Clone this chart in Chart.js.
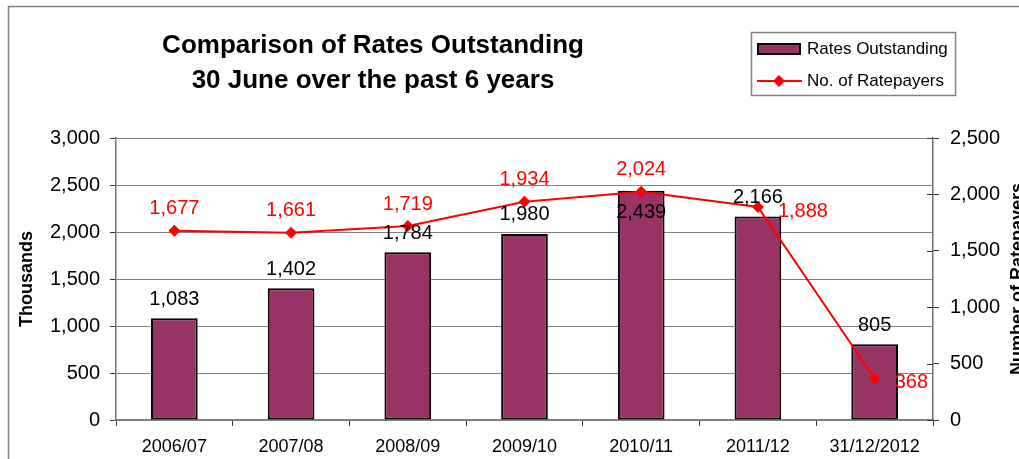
<!DOCTYPE html>
<html lang="en">
<head>
<meta charset="UTF-8">
<title>Comparison of Rates Outstanding</title>
<style>
  html, body { margin: 0; padding: 0; background: white; overflow: hidden; }
</style>
<script src="https://cdn.jsdelivr.net/npm/chart.js"></script>
</head>
<body>
<canvas id="ratesChart" width="1019" height="459"></canvas>
<script>
  // Values at 30 June each year (last column is the half-year figure)
  const periods = ['2006/07', '2007/08', '2008/09', '2009/10', '2010/11', '2011/12', '31/12/2012'];
  const ratesOutstanding = [1083, 1402, 1784, 1980, 2439, 2166, 805]; // thousands
  const ratepayers = [1677, 1661, 1719, 1934, 2024, 1888, 368];

  // Where each value label sits relative to its mark
  const barLabelSide = ['above', 'above', 'above', 'above', 'inside', 'above', 'above'];
  const lineLabelSide = ['above', 'above', 'above', 'above', 'above', 'right', 'right'];

  const FONT = "'Liberation Sans', Arial, sans-serif";
  const BAR_COLOR = '#993366';
  const LINE_COLOR = '#ff0000';
  const fmt = v => Number(v).toLocaleString('en-US');

  // Frame, title, axis titles, legend and value labels
  const decorations = {
    id: 'decorations',
    beforeDraw(chart) {
      const ctx = chart.ctx;
      ctx.save();
      ctx.fillStyle = '#fff';
      ctx.fillRect(0, 0, chart.width, chart.height);
      ctx.strokeStyle = '#808080';
      ctx.lineWidth = 1.5;
      ctx.strokeRect(8.5, 6.5, chart.width + 40, chart.height + 40);
      ctx.restore();
    },
    afterDatasetsDraw(chart) {
      const ctx = chart.ctx;
      ctx.save();
      ctx.font = '20px ' + FONT;
      ctx.textBaseline = 'middle';
      chart.data.datasets.forEach((ds, i) => {
        const meta = chart.getDatasetMeta(i);
        meta.data.forEach((el, j) => {
          const side = ds.labelSide[j];
          let x = el.x, y = el.y;
          ctx.fillStyle = ds.labelColor;
          ctx.textAlign = 'center';
          if (side === 'above') y -= ds.type === 'line' ? 22 : 19;
          else if (side === 'inside') y += 22;
          else if (side === 'right') { x += 20; y += 4; ctx.textAlign = 'left'; }
          ctx.fillText(fmt(ds.data[j]), x, y);
        });
      });
      ctx.restore();
    },
    afterDraw(chart) {
      const ctx = chart.ctx;
      const area = chart.chartArea;
      const midY = (area.top + area.bottom) / 2;
      ctx.save();

      // right axis ticks cross the axis line
      const right = chart.scales.y1;
      ctx.strokeStyle = '#333';
      ctx.lineWidth = 1;
      right.ticks.forEach(t => {
        const y = Math.round(right.getPixelForValue(t.value)) + 0.5;
        ctx.beginPath();
        ctx.moveTo(area.right - 6, y);
        ctx.lineTo(area.right, y);
        ctx.stroke();
      });

      // title
      ctx.fillStyle = '#000';
      ctx.textAlign = 'center';
      ctx.textBaseline = 'alphabetic';
      ctx.font = 'bold 26px ' + FONT;
      ctx.fillText('Comparison of Rates Outstanding', 373, 53);
      ctx.fillText('30 June over the past 6 years', 373, 88);

      // axis titles, both reading upwards
      ctx.font = 'bold 18px ' + FONT;
      ctx.save();
      ctx.translate(32, midY);
      ctx.rotate(-Math.PI / 2);
      ctx.fillText('Thousands', 0, 0);
      ctx.restore();
      ctx.save();
      ctx.translate(1023, midY);
      ctx.rotate(-Math.PI / 2);
      ctx.fillText('Number of Ratepayers', 0, 0);
      ctx.restore();

      // legend box
      const lx = 751, ly = 32;
      ctx.fillStyle = '#fff';
      ctx.fillRect(lx, ly, 204, 63);
      ctx.strokeStyle = '#808080';
      ctx.lineWidth = 1.5;
      ctx.strokeRect(lx + 0.5, ly + 0.5, 204, 63);

      const [barDs, lineDs] = chart.data.datasets;
      ctx.fillStyle = BAR_COLOR;
      ctx.fillRect(lx + 6, ly + 11, 43, 11);
      ctx.strokeStyle = '#000';
      ctx.lineWidth = 2;
      ctx.strokeRect(lx + 7, ly + 12, 42, 10);

      ctx.strokeStyle = LINE_COLOR;
      ctx.lineWidth = 2;
      ctx.beginPath();
      ctx.moveTo(lx + 6, ly + 49);
      ctx.lineTo(lx + 51, ly + 49);
      ctx.stroke();
      ctx.fillStyle = LINE_COLOR;
      ctx.beginPath();
      ctx.moveTo(lx + 28, ly + 43);
      ctx.lineTo(lx + 34, ly + 49);
      ctx.lineTo(lx + 28, ly + 55);
      ctx.lineTo(lx + 22, ly + 49);
      ctx.closePath();
      ctx.fill();

      ctx.fillStyle = '#000';
      ctx.font = '17px ' + FONT;
      ctx.textAlign = 'left';
      ctx.textBaseline = 'middle';
      ctx.fillText(barDs.label, lx + 56, ly + 17);
      ctx.fillText(lineDs.label, lx + 56, ly + 49);

      ctx.restore();
    }
  };

  new Chart(document.getElementById('ratesChart'), {
    data: {
      labels: periods,
      datasets: [
        {
          type: 'bar',
          label: 'Rates Outstanding',
          data: ratesOutstanding,
          yAxisID: 'y',
          backgroundColor: BAR_COLOR,
          borderColor: '#000',
          borderWidth: 2,
          borderSkipped: false,
          barPercentage: 0.4,
          categoryPercentage: 1,
          order: 1,
          labelSide: barLabelSide,
          labelColor: '#000'
        },
        {
          type: 'line',
          label: 'No. of Ratepayers',
          data: ratepayers,
          yAxisID: 'y1',
          borderColor: LINE_COLOR,
          backgroundColor: LINE_COLOR,
          borderWidth: 2,
          pointStyle: 'rectRot',
          pointRadius: 6,
          pointBorderWidth: 0,
          tension: 0,
          fill: false,
          order: 0,
          labelSide: lineLabelSide,
          labelColor: LINE_COLOR
        }
      ]
    },
    options: {
      responsive: false,
      animation: false,
      layout: { padding: { top: 138, left: 0, right: 0, bottom: 0 } },
      plugins: {
        legend: { display: false },
        title: { display: false },
        tooltip: { enabled: false }
      },
      scales: {
        x: {
          grid: { offset: true, drawOnChartArea: false, tickLength: 6, color: '#333' },
          border: { color: '#808080', width: 1.5 },
          ticks: { color: '#000', font: { family: FONT, size: 18 }, padding: 10, maxRotation: 0 },
          afterFit(scale) { scale.height = 39; }
        },
        y: {
          position: 'left',
          min: 0,
          max: 3000,
          ticks: { stepSize: 500, color: '#000', font: { family: FONT, size: 20 }, padding: 10, callback: v => fmt(v) },
          grid: { color: '#808080', tickColor: '#333', tickLength: 6 },
          border: { color: '#707070', width: 1.5 },
          afterFit(scale) { scale.width = 116; }
        },
        y1: {
          position: 'right',
          min: 0,
          max: 2500,
          ticks: { stepSize: 500, color: '#000', font: { family: FONT, size: 20 }, padding: 11, callback: v => fmt(v) },
          grid: { drawOnChartArea: false, color: '#333', tickLength: 6 },
          border: { color: '#707070', width: 1.5 },
          afterFit(scale) { scale.width = 86; }
        }
      }
    },
    plugins: [decorations]
  });
</script>
</body>
</html>
